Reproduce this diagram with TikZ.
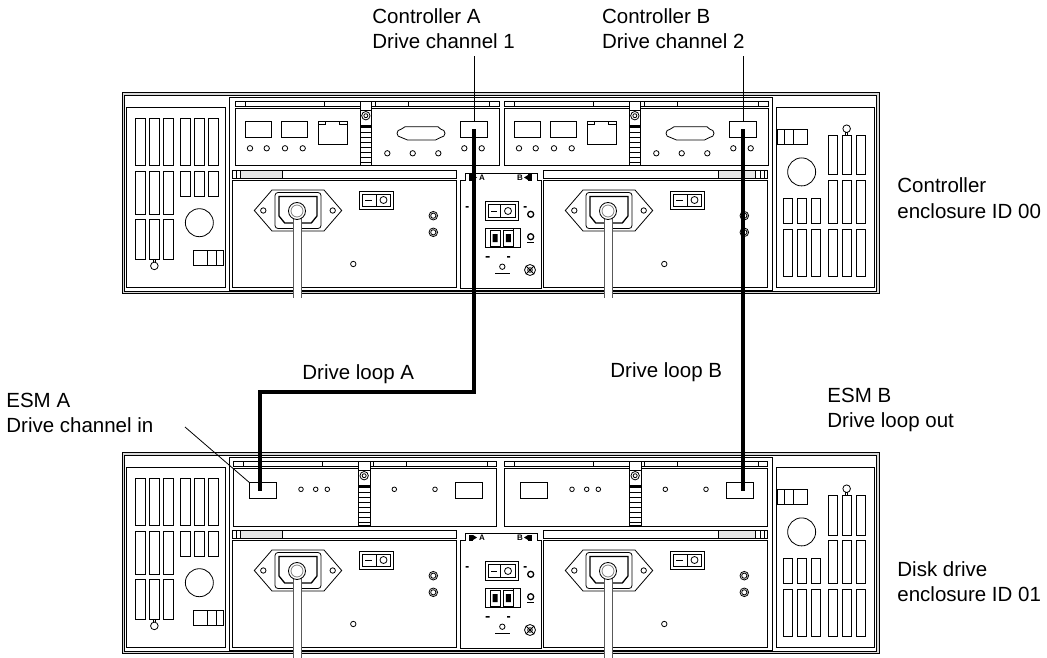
\documentclass[tikz,border=0pt]{standalone}
\usepackage{fontspec}
\setmainfont{Liberation Sans}
\usetikzlibrary{positioning,calc}

\begin{document}
\begin{tikzpicture}[
    x=1pt, y=-1pt,
    line width=0.8pt,
    lbl/.style={font=\fontsize{20.5}{25}\selectfont, align=left, inner sep=0pt, anchor=base west},
    tinylbl/.style={font=\fontsize{8}{8}\selectfont\bfseries, inner sep=0pt},
    port/.style={draw, rectangle, minimum width=27pt, minimum height=16pt, inner sep=0pt, line width=0.8pt},
    cable/.style={line width=4pt, line join=miter},
    leader/.style={line width=0.8pt},
    powercord/.style={draw=gray!70!black, double=white, double distance=7pt, line width=1pt},
    % --- side panel with slots (origin = panel centre) ---
    sidepanel/.pic={
        \draw (-49.15,-90) rectangle (49.15,90);
        \foreach \x in {-40.15,-26.15,-12.15} {
            \draw (\x,-78.6) rectangle ++(9.3,46.6);
            \draw (\x,-26.3) rectangle ++(9.3,43.5);
            \draw (\x,22.4) rectangle ++(9.3,39.8);
        }
        \foreach \x in {4.85,18.85,32.85} {
            \draw (\x,-78.6) rectangle ++(9.3,46.6);
            \draw (\x,-26.3) rectangle ++(9.3,25.5);
        }
        \draw (-22.5,62.2) -- (-22.5,65) (-20.5,62.2) -- (-20.5,65);
        \draw (-21.5,68.6) circle[radius=3.8];
        \draw (23.5,25.4) circle[radius=14];
        \draw (17.5,52.7) rectangle (47.5,67.7);
        \draw (31.9,52.7) -- (31.9,67.7) (40.9,52.7) -- (40.9,67.7);
    },
    % --- release latch (origin = top left) ---
    latch/.pic={
        \draw[fill=white] (0,0) rectangle (11.7,63.3);
        \draw (0,8.3) -- (11.7,8.3);
        \draw (5.85,14) circle[radius=4.2];
        \draw (5.85,14) circle[radius=2];
        \fill (0,23) rectangle (11.7,26);
        \foreach \r in {31,36,...,61} \draw (0,\r) -- (11.7,\r);
    },
    % --- RAID controller (origin = top left of body) ---
    controller/.pic={
        \draw (0,-6.6) rectangle (264,-1.6);
        \foreach \t in {10,89,140,173,254} \draw (\t,-6.6) -- (\t,-1.6);
        \draw (0,0) rectangle (264,56.7);
        \draw (10.7,12.7) rectangle (36,29);
        \draw (46.7,12.7) rectangle (72.7,29);
        \draw (83.3,12.7) rectangle (112,36);
        \draw (83.3,12.7) rectangle (90.5,16) (104.8,12.7) rectangle (112,16);
        \foreach \c in {15,31.7,50,67.7} \draw (\c,40) circle[radius=2.7];
        \pic at (125,-6.6) {latch};
        \draw (170,18.5) -- (203,18.5) -- (206,21) arc[start angle=-90, end angle=90, radius=4]
              -- (200.5,31.7) -- (172.5,31.7) -- (166,29) arc[start angle=90, end angle=270, radius=4] -- cycle;
        \foreach \c in {152.3,177.7,203.3} \draw (\c,45) circle[radius=2.7];
        \node[port] (-out) at (239.35,20.85) {};
        \foreach \c in {229.3,246.7} \draw (\c,40) circle[radius=2.7];
    },
    % --- ESM (origin = top left of body) ---
    esm/.pic={
        \draw (0,-6.6) rectangle (263.4,-1.6);
        \foreach \t in {10,89,140,173,254} \draw (\t,-6.6) -- (\t,-1.6);
        \draw (0,0) rectangle (263.4,57.7);
        \node[port] (-in) at (29.85,22.5) {};
        \foreach \c in {67.7,82.4,94} \draw (\c,21) circle[radius=2.3];
        \pic at (125,-6.6) {latch};
        \foreach \c in {161,201.7} \draw (\c,21) circle[radius=2.3];
        \node[port] (-out) at (235.85,22.5) {};
    },
    % --- power supply (origin = top left of rail) ---
    psu/.pic={
        \draw (0,0) rectangle (224.4,8.3);
        \draw (0,10) rectangle (224.4,117.3);
        \draw (22,40.5) -- (39.7,20) -- (91.7,20) -- (109.4,40.5) -- (91.7,61) -- (39.7,61) -- cycle;
        \draw[rounded corners=3pt] (42.7,22.5) rectangle (88.7,58.5);
        \draw[line width=1.3pt] (46.7,26.5) -- (84.7,26.5) -- (84.7,46) -- (79,53) -- (52.4,53) -- (46.7,46) -- cycle;
        \draw (31,40.5) circle[radius=2.7] (100.4,40.5) circle[radius=2.7];
        \draw[powercord] (64.7,45) -- (64.7,128);
        \draw[fill=white] (64.7,41) circle[radius=8.5];
        \draw[gray] (64.7,41) circle[radius=6];
        \draw (127,21) rectangle (161,39);
        \draw (129.7,24) rectangle (158.2,36) (144.2,24) -- (144.2,36);
        \draw (132.7,30) -- (139.7,30);
        \draw (151.2,30) circle[radius=3.5];
        \foreach \r in {45.7,62.3} \draw (201,\r) circle[radius=4.3] (201,\r) circle[radius=2.6];
        \draw (121,94) circle[radius=2.7];
    },
    % --- centre module between the power supplies (origin = top left) ---
    midmodule/.pic={
        \draw (0,8) -- (5,8) -- (5,1) -- (77,1) -- (77,8) -- (81.7,8) -- (81.7,116) -- (0,116) -- cycle;
        \fill (9,2.5) rectangle (13,8.5);
        \fill (13,3) -- (17,5.5) -- (13,8) -- cycle;
        \node[tinylbl] (-lblA) at (22,5.7) {A};
        \node[tinylbl] (-lblB) at (60,5.7) {B};
        \fill (68,2.5) rectangle (72,8.5);
        \fill (68,3) -- (64,5.5) -- (68,8) -- cycle;
        \fill (5.5,34) rectangle (8.5,35.5) (63.5,34) rectangle (66.5,35.5);
        \draw (25,29.7) rectangle (58.3,48);
        \draw (28,32.5) rectangle (55.5,45.2) (40.5,32.5) -- (40.5,45.2);
        \draw (31,39) -- (37,39);
        \draw (48,39) circle[radius=3.5];
        \draw[line width=1.3pt] (70.7,42.3) circle[radius=3];
        \draw (25,56.3) rectangle (60,75.7) (53.3,56.3) -- (53.3,75.7);
        \draw (30,58) rectangle (40,74) (43.3,58) rectangle (53.3,74);
        \fill (32.5,62) rectangle (37.5,70) (45.8,62) rectangle (50.8,70);
        \draw[line width=1.3pt] (70.7,64.7) circle[radius=3];
        \fill (67,70) rectangle (74,71.2);
        \fill (25.5,84) rectangle (29.5,85.5) (47,84) rectangle (50,85.5);
        \draw (42.3,94.7) circle[radius=2.7];
        \fill (35,101) rectangle (50,102.2);
        \draw (70,98) circle[radius=5.5] (70,98) circle[radius=2.3];
        \draw (66,94) -- (74,102) (66,102) -- (74,94);
    },
    % --- enclosure frame, side panels, power supplies ---
    chassis/.pic={
        \draw[fill=gray!30] (122,92) rectangle (879,293.5);
        \draw[fill=white] (124.5,95) rectangle (876.5,291);
        \draw (229,97.3) rectangle (772.3,290);
        \pic at (175.85,197.3) {sidepanel};
        \pic[rotate=180] at (825.15,197.3) {sidepanel};
        \pic at (232.3,170) {psu};
        \pic at (543.3,170) {psu};
        \draw[fill=gray!20] (240,170) rectangle (282,178.3);
        \draw (236,170) -- (236,178.3);
        \draw[fill=gray!20] (718,170) rectangle (755,178.3);
        \draw (760,170) -- (760,178.3) (764,170) -- (764,178.3);
        \pic at (460,172) {midmodule};
    }
]
\useasboundingbox (0,0) rectangle (1047,658);

% === CONTROLLER ENCLOSURE (top) ===
\pic at (0,0) {chassis};
\pic (ctlA) at (235,108.3) {controller};
\pic (ctlB) at (504,108.3) {controller};

% === DISK DRIVE ENCLOSURE (bottom) ===
\pic at (0,360) {chassis};
\pic (esmA) at (233.3,468.3) {esm};
\pic (esmB) at (504.3,468.3) {esm};

% === LABELS ===
\node[lbl] (lblCtlA) at (372,49) {Controller A\\Drive channel 1};
\node[lbl] (lblCtlB) at (601.7,49) {Controller B\\Drive channel 2};
\node[lbl] (lblCtlEnc) at (897,218) {Controller\\enclosure ID 00};
\node[lbl] (lblLoopA) at (302,379) {Drive loop A};
\node[lbl] (lblLoopB) at (610,377) {Drive loop B};
\node[lbl] (lblEsmA) at (6,432) {ESM A\\Drive channel in};
\node[lbl] (lblEsmB) at (827,427) {ESM B\\Drive loop out};
\node[lbl] (lblDiskEnc) at (897,601) {Disk drive\\enclosure ID 01};

% === LEADERS ===
\coordinate (ctlTop) at (0,56);
\coordinate (esmA-tip) at (185,427);
\draw[leader] (ctlA-out.north) -- (ctlA-out.north |- ctlTop);
\draw[leader] (ctlB-out.north) -- (ctlB-out.north |- ctlTop);
\draw[leader] (esmA-tip) -- (esmA-in.north west);

% === DRIVE LOOPS ===
\coordinate (loopA) at (0,392);
\draw[cable] (ctlA-out.center) -- (ctlA-out.center |- loopA) -| ([xshift=-3pt]esmA-in.center);
\draw[cable] (ctlB-out.center) -- (ctlB-out.center |- esmB-out.center);

\end{tikzpicture}
\end{document}
